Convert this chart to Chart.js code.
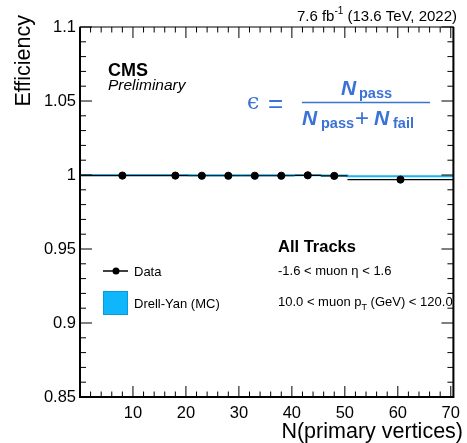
<!DOCTYPE html>
<html>
<head>
<meta charset="utf-8">
<script src="https://cdn.jsdelivr.net/npm/chart.js@4/dist/chart.umd.min.js"></script>
<style>
  body { margin: 0; background: #fff; }
  #wrap { width: 467px; height: 443px; }
</style>
</head>
<body>
<div id="wrap"><canvas id="effChart" width="467" height="443"></canvas></div>
<script>
// bins in N(primary vertices)
var binLo = [0, 15.5, 20.5, 25.5, 30.5, 35.5, 40.5, 45.5, 50.5];
var binHi = [15.5, 20.5, 25.5, 30.5, 35.5, 40.5, 45.5, 50.5, 70.5];
var dataX = [8, 18, 23, 28, 33, 38, 43, 48, 60.5];
var dataY = [0.9996, 0.9996, 0.9995, 0.9995, 0.9995, 0.9995, 0.9998, 0.9994, 0.9969];
var dataErr = [0.0001, 0.0001, 0.0001, 0.0001, 0.0001, 0.0001, 0.0002, 0.0002, 0.0004];
var mcY = [1.0000, 1.0000, 0.9999, 0.9999, 0.9999, 0.9999, 0.9998, 0.9997, 0.9991];
var mcErr = [0.0001, 0.0001, 0.0001, 0.0001, 0.0001, 0.0001, 0.0002, 0.0002, 0.0003];

var xTicks = [10, 20, 30, 40, 50, 60, 70];
var yTicks = [0.85, 0.9, 0.95, 1, 1.05, 1.1];

var FONT = "'Liberation Sans', Arial, sans-serif";
var MC_COLOR = "#19b5f0";

// step points for MC line and band
var mcLine = [], mcUp = [], mcDown = [];
for (let i = 0; i < binLo.length; i++) {
    mcLine.push({x: binLo[i], y: mcY[i]}, {x: binHi[i], y: mcY[i]});
    mcUp.push({x: binLo[i], y: mcY[i] + mcErr[i]}, {x: binHi[i], y: mcY[i] + mcErr[i]});
    mcDown.push({x: binLo[i], y: mcY[i] - mcErr[i]}, {x: binHi[i], y: mcY[i] - mcErr[i]});
}
var points = [];
for (let i = 0; i < dataX.length; i++) points.push({x: dataX[i], y: dataY[i]});

var decoPlugin = {
    id: "deco",
    afterDatasetsDraw(chart) {
        const ctx = chart.ctx, xs = chart.scales.x, ys = chart.scales.y;
        const a = chart.chartArea;
        ctx.save();
        // data error bars
        ctx.strokeStyle = "#000";
        ctx.lineWidth = 1.2;
        for (let i = 0; i < dataX.length; i++) {
            let py = ys.getPixelForValue(dataY[i]);
            ctx.beginPath();
            ctx.moveTo(xs.getPixelForValue(binLo[i]), py);
            ctx.lineTo(xs.getPixelForValue(binHi[i]), py);
            let px = xs.getPixelForValue(dataX[i]);
            ctx.moveTo(px, ys.getPixelForValue(dataY[i] + dataErr[i]));
            ctx.lineTo(px, ys.getPixelForValue(dataY[i] - dataErr[i]));
            ctx.stroke();
        }
        // frame
        ctx.lineWidth = 1;
        ctx.strokeRect(a.left, a.top, a.right - a.left, a.bottom - a.top);
        ctx.lineWidth = 2;
        ctx.beginPath();
        ctx.moveTo(a.left, a.top); ctx.lineTo(a.left, a.bottom); ctx.lineTo(a.right, a.bottom); ctx.lineTo(a.right, a.top);
        ctx.stroke();
        // inward ticks
        ctx.lineWidth = 1;
        ctx.beginPath();
        for (let v = 2; v <= 70; v += 2) {
            let px = xs.getPixelForValue(v);
            let len = (v % 10 == 0) ? 11 : 5.5;
            ctx.moveTo(px, a.bottom); ctx.lineTo(px, a.bottom - len);
            ctx.moveTo(px, a.top); ctx.lineTo(px, a.top + len);
        }
        for (let k = 0; k <= 25; k++) {
            let v = 0.85 + k * 0.01;
            let py = ys.getPixelForValue(v);
            let len = (k % 5 == 0) ? 12 : 6;
            ctx.moveTo(a.left, py); ctx.lineTo(a.left + len, py);
            ctx.moveTo(a.right, py); ctx.lineTo(a.right - len, py);
        }
        ctx.stroke();

        // texts
        ctx.fillStyle = "#000";
        ctx.textBaseline = "alphabetic";
        ctx.textAlign = "left";
        ctx.font = "bold 18px " + FONT;
        ctx.fillText("CMS", 108, 76);
        ctx.font = "italic 15.5px " + FONT;
        ctx.fillText("Preliminary", 108, 90);

        // lumi label
        ctx.font = "15px " + FONT;
        let t1 = "7.6 fb", t2 = "-1", t3 = " (13.6 TeV, 2022)";
        let w1 = ctx.measureText(t1).width, w3 = ctx.measureText(t3).width;
        ctx.font = "10px " + FONT;
        let w2 = ctx.measureText(t2).width;
        let x0 = 457 - (w1 + w2 + w3);
        ctx.font = "15px " + FONT;
        ctx.fillText(t1, x0, 21);
        ctx.fillText(t3, x0 + w1 + w2, 21);
        ctx.font = "10px " + FONT;
        ctx.fillText(t2, x0 + w1, 14);

        // axis titles
        ctx.font = "21.5px " + FONT;
        ctx.textAlign = "right";
        ctx.fillText("N(primary vertices)", 463, 438);
        ctx.save();
        ctx.translate(30, 15);
        ctx.rotate(-Math.PI / 2);
        ctx.fillText("Efficiency", 0, 0);
        ctx.restore();

        // formula
        ctx.fillStyle = "#3a72d6";
        ctx.strokeStyle = "#3a72d6";
        ctx.textAlign = "left";
        ctx.font = "22px 'DejaVu Serif', serif";
        ctx.fillText("\u03f5", 247, 109);
        ctx.font = "26px " + FONT;
        ctx.fillText("=", 268, 112);
        ctx.lineWidth = 1.3;
        ctx.beginPath(); ctx.moveTo(302, 102.5); ctx.lineTo(430, 102.5); ctx.stroke();
        ctx.font = "italic bold 21px " + FONT;
        ctx.fillText("N", 341, 95);
        ctx.fillText("N", 302, 125);
        ctx.fillText("N", 374, 125);
        ctx.font = "bold 14.5px " + FONT;
        ctx.fillText("pass", 359, 98);
        ctx.fillText("pass", 321, 128);
        ctx.fillText("fail", 393, 128);
        ctx.font = "24px " + FONT;
        ctx.fillText("+", 355, 126);

        // legend + labels
        ctx.fillStyle = "#000";
        ctx.strokeStyle = "#000";
        ctx.font = "bold 16.5px " + FONT;
        ctx.fillText("All Tracks", 278, 252);
        ctx.font = "13px " + FONT;
        ctx.fillText("-1.6 < muon \u03b7 < 1.6", 278, 275);
        let s1 = "10.0 < muon p";
        ctx.fillText(s1, 278, 306);
        let ws = ctx.measureText(s1).width;
        ctx.font = "9px " + FONT;
        ctx.fillText("T", 278 + ws, 310);
        let wt = ctx.measureText("T").width;
        ctx.font = "13px " + FONT;
        ctx.fillText(" (GeV) < 120.0", 278 + ws + wt, 306);

        ctx.lineWidth = 1.5;
        ctx.beginPath(); ctx.moveTo(103, 271); ctx.lineTo(128, 271); ctx.stroke();
        ctx.beginPath(); ctx.arc(116, 271, 3.5, 0, Math.PI * 2); ctx.fill();
        ctx.font = "13px " + FONT;
        ctx.fillText("Data", 134, 276);
        ctx.fillStyle = "#0fb6fb";
        ctx.fillRect(103, 291, 25, 24);
        ctx.strokeStyle = "#0a9ad8";
        ctx.lineWidth = 1;
        ctx.strokeRect(103.5, 291.5, 24, 23);
        ctx.fillStyle = "#000";
        ctx.fillText("Drell-Yan (MC)", 134, 308);
        ctx.restore();
    }
};

new Chart(document.getElementById("effChart"), {
    type: "scatter",
    data: {
        datasets: [
            {
                label: "mc-up", data: mcUp, showLine: true, pointRadius: 0,
                borderWidth: 0, borderColor: "transparent", fill: false, order: 3
            },
            {
                label: "mc-down", data: mcDown, showLine: true, pointRadius: 0,
                borderWidth: 0, borderColor: "transparent",
                fill: "-1", backgroundColor: "rgba(25,181,240,0.55)", order: 3
            },
            {
                label: "Drell-Yan (MC)", data: mcLine, showLine: true, pointRadius: 0,
                borderWidth: 2, borderColor: MC_COLOR, fill: false, order: 2
            },
            {
                label: "Data", data: points, pointRadius: 3.6, pointHoverRadius: 3.6,
                backgroundColor: "#000", borderColor: "#000", order: 1
            }
        ]
    },
    plugins: [decoPlugin],
    options: {
        animation: false,
        responsive: false,
        events: [],
        layout: { padding: { top: 27, right: 6, left: 0, bottom: 0 } },
        plugins: { legend: { display: false }, tooltip: { enabled: false } },
        scales: {
            x: {
                type: "linear", min: 0, max: 70.5,
                grid: { display: false, drawTicks: false },
                border: { display: false },
                afterFit: function(s) { s.height = 46; },
                afterBuildTicks: function(s) { s.ticks = xTicks.map(v => ({value: v})); },
                ticks: {
                    color: "#000", padding: 7,
                    font: { family: FONT, size: 16.5 },
                    callback: function(v) { return String(v); }
                }
            },
            y: {
                type: "linear", min: 0.85, max: 1.1,
                grid: { display: false, drawTicks: false },
                border: { display: false },
                afterFit: function(s) { s.width = 80; },
                afterBuildTicks: function(s) { s.ticks = yTicks.map(v => ({value: v})); },
                ticks: {
                    color: "#000", padding: 4,
                    font: { family: FONT, size: 16.5 },
                    callback: function(v) { return String(parseFloat(v.toFixed(2))); }
                }
            }
        }
    }
});
</script>
</body>
</html>
